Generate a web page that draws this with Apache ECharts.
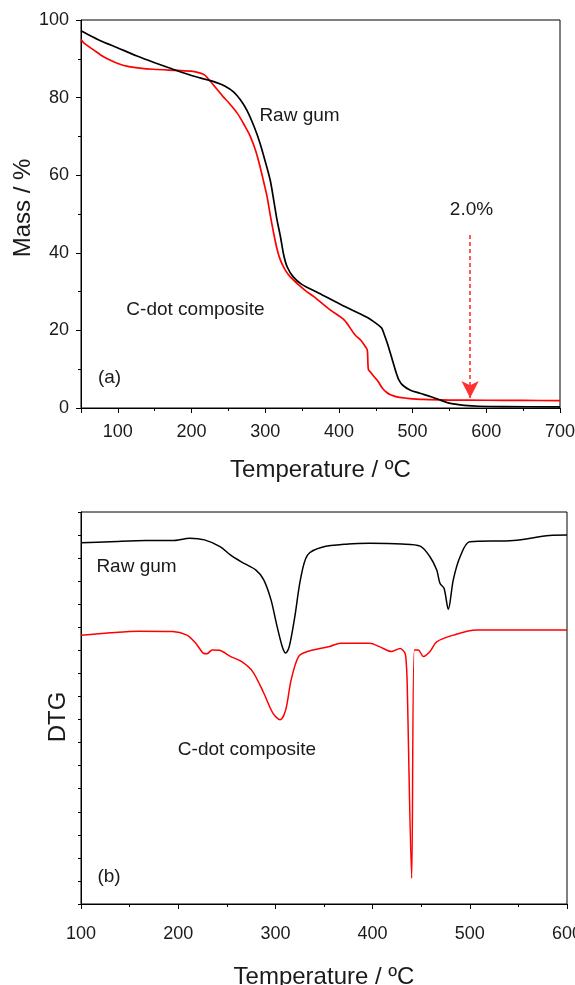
<!DOCTYPE html>
<html>
<head>
<meta charset="utf-8">
<script src="https://cdn.jsdelivr.net/npm/echarts@6/dist/echarts.min.js"></script>
<style>
  html, body { margin: 0; padding: 0; background: #fff; }
  #chart { width: 575px; height: 985px; }
</style>
</head>
<body>
<div id="chart"></div>
<script>
// (a) TGA - raw gum
const rawTgaTemp = [50, 60, 75, 100, 125, 150, 175, 200, 221, 235, 245, 257, 266, 275, 285, 293, 302, 307, 311.5, 316, 320.6, 325, 329.7, 338, 350, 373, 403, 438, 452, 458, 461, 466, 472.5, 477, 481.5, 487, 497, 510, 525, 537, 547, 558, 570, 590, 624, 700];
const rawTgaMass = [97.2, 96.2, 94.8, 92.8, 90.8, 89.0, 87.3, 85.7, 84.6, 83.8, 83.0, 81.5, 79.5, 76.8, 72.5, 68.2, 62.2, 58.5, 53.6, 48.5, 44.2, 39.5, 36.4, 33.8, 31.8, 29.6, 26.6, 23.4, 21.6, 20.6, 19.2, 16.5, 12.4, 9.5, 7.2, 5.8, 4.6, 3.8, 2.9, 2.1, 1.4, 1.0, 0.7, 0.45, 0.35, 0.3];

// (a) TGA - C-dot composite
const cdotTgaTemp = [50, 55, 67, 80, 90, 100, 112, 130, 148, 180, 200, 212, 218, 222, 230, 243, 250, 262, 272, 280, 287, 293, 298, 302.5, 307, 311.5, 316, 320.6, 327, 334, 345, 355, 366, 388, 407, 422, 430, 436, 438.5, 440, 443, 447.5, 453, 459, 465, 470, 480, 493, 515, 550, 600, 650, 700];
const cdotTgaMass = [95.0, 93.9, 92.3, 90.6, 89.6, 88.8, 88.1, 87.6, 87.3, 87.0, 86.8, 86.3, 85.8, 85.0, 83.2, 80.2, 78.8, 76.0, 72.8, 69.9, 66.3, 62.2, 58.2, 54.5, 49.5, 45.0, 41.0, 38.1, 35.6, 33.8, 31.8, 30.2, 28.7, 25.3, 22.7, 18.8, 17.4, 15.8, 14.9, 9.9, 9.2, 8.1, 6.9, 5.1, 4.0, 3.4, 2.8, 2.5, 2.2, 2.05, 2.0, 1.95, 1.9];

// (b) DTG, arbitrary units (axis 0..17)
const rawDtgTemp = [100, 130, 167, 194, 212, 227, 243, 254, 265, 280, 288, 295.5, 301, 307, 310.6, 314.3, 320, 325.7, 333, 348, 375, 397, 430, 449, 459, 466, 469.3, 473.5, 477.9, 483, 490, 500, 545, 582, 600];
const rawDtgValue = [15.67, 15.71, 15.76, 15.76, 15.86, 15.79, 15.50, 15.13, 14.84, 14.48, 14.06, 13.19, 12.17, 11.17, 10.88, 11.17, 12.46, 14.06, 15.13, 15.47, 15.61, 15.64, 15.61, 15.52, 15.06, 14.48, 13.91, 13.69, 12.78, 14.06, 15.06, 15.71, 15.76, 15.98, 16.0];

const cdotDtgTemp = [100, 130, 160, 194, 209, 218, 225.7, 229.4, 235, 242.6, 254, 265, 276.6, 288, 297.4, 304.9, 310.6, 316.2, 323.8, 333, 356, 367, 397, 407.6, 419.6, 428.2, 433.3, 434.6, 435.5, 440.2, 442.9, 447, 452.2, 459, 465.9, 483, 507, 600];
const cdotDtgValue = [11.65, 11.76, 11.83, 11.82, 11.66, 11.31, 10.88, 10.85, 11.02, 11.0, 10.73, 10.52, 10.08, 9.15, 8.28, 7.99, 8.42, 9.72, 10.73, 10.95, 11.17, 11.31, 11.31, 11.15, 10.95, 11.08, 10.88, 10.46, 9.69, 1.12, 11.02, 11.02, 10.73, 10.95, 11.37, 11.66, 11.88, 11.88];

// residue arrow in (a)
const residueTemp = 578;
const residueArrowFrom = 44.6;
const residueArrowTo = 2.6;

const zip = (xs, ys) => xs.map((x, i) => [x, ys[i]]);

const FONT = 'Liberation Sans, Arial, sans-serif';
const TXT = '#1a1a1a';

const chart = echarts.init(document.getElementById('chart'));

const axisCommon = {
  axisLine: { lineStyle: { color: '#000', width: 1 } },
  axisTick: { show: true, inside: false, length: 5, lineStyle: { color: '#000' } },
  minorTick: { show: true, splitNumber: 2, length: 3, lineStyle: { color: '#000' } },
  splitLine: { show: false },
  minorSplitLine: { show: false },
  axisLabel: { color: TXT, fontSize: 18, fontFamily: FONT }
};

const option = {
  animation: false,
  backgroundColor: '#fff',
  grid: [
    { left: 81, top: 20, width: 479, height: 388, show: true, borderColor: '#000', borderWidth: 1, outerBoundsMode: 'none' },
    { left: 81, top: 512, width: 486, height: 392, show: true, borderColor: '#000', borderWidth: 1, outerBoundsMode: 'none' }
  ],
  xAxis: [
    {
      ...axisCommon,
      gridIndex: 0,
      type: 'value',
      min: 50,
      max: 700,
      splitNumber: 5,
      axisLabel: { ...axisCommon.axisLabel, margin: 15, showMinLabel: false },
      name: 'Temperature / ºC',
      nameLocation: 'middle',
      nameGap: 50,
      nameTextStyle: { color: TXT, fontSize: 24, fontFamily: FONT }
    },
    {
      ...axisCommon,
      gridIndex: 1,
      type: 'value',
      min: 100,
      max: 600,
      interval: 100,
      axisLabel: { ...axisCommon.axisLabel, margin: 21 },
      name: 'Temperature / ºC',
      nameLocation: 'middle',
      nameGap: 61,
      nameTextStyle: { color: TXT, fontSize: 24, fontFamily: FONT }
    }
  ],
  yAxis: [
    {
      ...axisCommon,
      gridIndex: 0,
      type: 'value',
      min: 0,
      max: 100,
      interval: 20,
      axisLabel: { ...axisCommon.axisLabel, margin: 12 }
    },
    {
      ...axisCommon,
      gridIndex: 1,
      type: 'value',
      min: 0,
      max: 17,
      interval: 1,
      axisTick: { show: true, length: 3, lineStyle: { color: '#000' } },
      minorTick: { show: false },
      axisLabel: { show: false }
    }
  ],
  series: [
    {
      name: 'Raw gum TGA',
      type: 'line',
      xAxisIndex: 0, yAxisIndex: 0,
      data: zip(rawTgaTemp, rawTgaMass),
      showSymbol: false,
      smooth: 0.3,
      lineStyle: { color: '#000', width: 1.7 },
      z: 3
    },
    {
      name: 'C-dot composite TGA',
      type: 'line',
      xAxisIndex: 0, yAxisIndex: 0,
      data: zip(cdotTgaTemp, cdotTgaMass),
      showSymbol: false,
      smooth: 0.3,
      lineStyle: { color: '#ff0000', width: 1.7 },
      z: 2,
      markLine: {
        silent: true,
        symbol: ['none', 'arrow'],
        symbolSize: [13, 17],
        label: { show: false },
        lineStyle: { color: '#ff3030', width: 1.6, type: [4, 3] },
        itemStyle: { color: '#ff1a1a' },
        data: [[{ coord: [residueTemp, residueArrowFrom] }, { coord: [residueTemp, residueArrowTo] }]]
      }
    },
    {
      name: 'Raw gum DTG',
      type: 'line',
      xAxisIndex: 1, yAxisIndex: 1,
      data: zip(rawDtgTemp, rawDtgValue),
      showSymbol: false,
      smooth: 0.3,
      lineStyle: { color: '#000', width: 1.5 }
    },
    {
      name: 'C-dot composite DTG',
      type: 'line',
      xAxisIndex: 1, yAxisIndex: 1,
      data: zip(cdotDtgTemp, cdotDtgValue),
      showSymbol: false,
      smooth: 0.3,
      lineStyle: { color: '#ff0000', width: 1.5 }
    }
  ],
  graphic: [
    { type: 'text', x: 23, y: 208, rotation: Math.PI / 2,
      style: { text: 'Mass / %', fill: TXT, fontSize: 24, fontFamily: FONT, textAlign: 'center', textVerticalAlign: 'middle' } },
    { type: 'text', x: 58, y: 717, rotation: Math.PI / 2,
      style: { text: 'DTG', fill: TXT, fontSize: 24, fontFamily: FONT, textAlign: 'center', textVerticalAlign: 'middle' } },
    { type: 'text', x: 299.5, y: 116,
      style: { text: 'Raw gum', fill: TXT, fontSize: 19, fontFamily: FONT, textAlign: 'center', textVerticalAlign: 'middle' } },
    { type: 'text', x: 195.5, y: 310,
      style: { text: 'C-dot composite', fill: TXT, fontSize: 19, fontFamily: FONT, textAlign: 'center', textVerticalAlign: 'middle' } },
    { type: 'text', x: 109.5, y: 378,
      style: { text: '(a)', fill: TXT, fontSize: 19, fontFamily: FONT, textAlign: 'center', textVerticalAlign: 'middle' } },
    { type: 'text', x: 471.5, y: 210,
      style: { text: '2.0%', fill: TXT, fontSize: 19, fontFamily: FONT, textAlign: 'center', textVerticalAlign: 'middle' } },
    { type: 'text', x: 136.5, y: 567,
      style: { text: 'Raw gum', fill: TXT, fontSize: 19, fontFamily: FONT, textAlign: 'center', textVerticalAlign: 'middle' } },
    { type: 'text', x: 247, y: 750,
      style: { text: 'C-dot composite', fill: TXT, fontSize: 19, fontFamily: FONT, textAlign: 'center', textVerticalAlign: 'middle' } },
    { type: 'text', x: 109, y: 877,
      style: { text: '(b)', fill: TXT, fontSize: 19, fontFamily: FONT, textAlign: 'center', textVerticalAlign: 'middle' } }
  ]
};

chart.setOption(option);
</script>
</body>
</html>
